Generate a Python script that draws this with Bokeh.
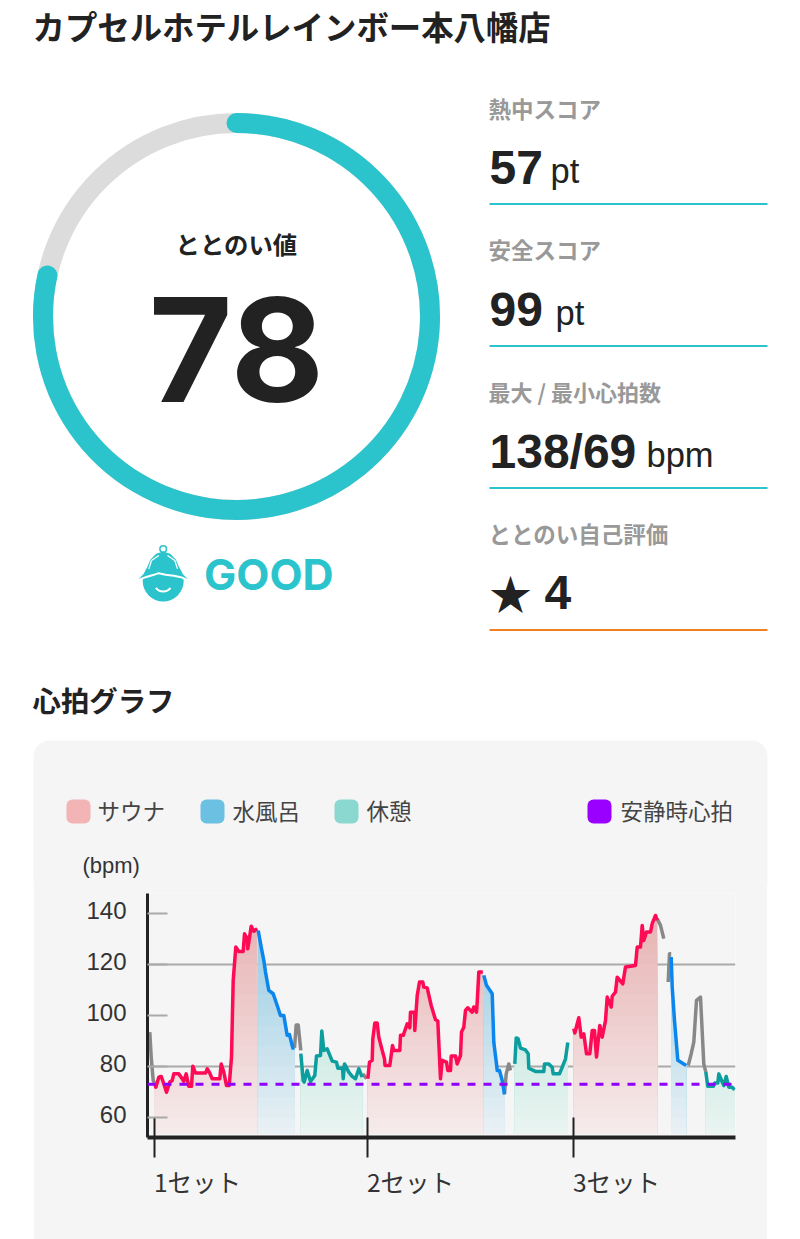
from bokeh.plotting import figure
from bokeh.layouts import column
from bokeh.models import Range1d, FixedTicker, Span, LinearAxis
from bokeh.core.properties import value
from bokeh.embed import file_html
from bokeh.resources import INLINE
import numpy as np

TITLE = "カプセルホテルレインボー本八幡店"
SCORE = 78
SCORE_LABEL = "ととのい値"
VERDICT = "GOOD"
METRIC_LABELS = ["熱中スコア", "安全スコア", "最大 / 最小心拍数", "ととのい自己評価"]
METRIC_VALUES = ["57", "99", "138/69", "4"]
METRIC_UNITS = ["pt", "pt", "bpm", ""]
CHART_TITLE = "心拍グラフ"
LEGEND_LABELS = ["サウナ", "水風呂", "休憩", "安静時心拍"]
Y_TICKS = [60, 80, 100, 120, 140]
X_TICKS = [7, 220, 426]
X_LABELS = ["1セット", "2セット", "3セット"]
REST_HR = 73

gray1_x = [2.3, 3.7, 5.7, 7.0]
gray1_y = [93.5, 83.7, 74.5, 73.5]
sauna1_x = [7.0, 8.3, 11.3, 13.7, 15.7, 19, 22.3, 24.7, 26.3, 31.3, 34.7, 36.3, 38.7, 41.3, 44, 45.3, 48, 58, 59.7, 62.3, 64.7, 72.3, 73.7, 76.3, 79, 81.7, 84, 85.7, 88.3, 91.3, 95.7, 97, 99.7, 100.3, 103.7, 106.3, 109.7]
sauna1_y = [73.5, 71.9, 75.8, 76.1, 73.9, 69.9, 73.9, 74.5, 77.1, 77.1, 75.2, 74.2, 77.1, 72.2, 72.2, 80.1, 77.4, 77.4, 79.1, 77.4, 75.2, 75.2, 81, 77.8, 72.5, 72.5, 83.7, 113.7, 126.8, 125.1, 125.1, 132, 130, 126.1, 135, 133, 134]
water1_x = [110.7, 113.7, 116.3, 118, 121.3, 125.7, 129.7, 133, 136.3, 139.7, 142, 145.3, 147]
water1_y = [133.3, 126.8, 121.6, 117, 109.8, 108.5, 103.9, 100, 100, 92.2, 92.5, 87.2, 87.3]
gray2_x = [147, 148.7, 150.7, 153.3]
gray2_y = [87.3, 96.3, 96.3, 86.3]
rest1_x = [153.3, 155.7, 156.7, 159.7, 163, 167.3, 169, 173, 174.3, 176.3, 179.7, 184.7, 189, 190.3, 195, 195.7, 197, 201.3, 204.7, 208, 211.3, 214.7]
rest1_y = [85, 74.5, 73.9, 78.4, 74.1, 76.5, 84.1, 84.3, 93.9, 86.3, 86.9, 82.1, 81.7, 79.3, 79.3, 75.2, 81, 77.8, 76.1, 75.2, 79.1, 75.8]
gray3_x = [215.3, 219]
gray3_y = [77.1, 75.2]
sauna2_x = [220.3, 222, 224.7, 225.3, 227.3, 229.7, 231.3, 234.7, 237, 237.5, 242.3, 245, 246.3, 252.3, 253, 255.7, 259.7, 262.3, 263, 267, 267.3, 269.7, 272, 275.3, 276.3, 279.7, 283.7, 288, 290.3, 293, 294.7, 299, 300.3, 303, 303.7, 308, 309.7, 313, 314, 316.3, 318, 320.3, 324.7, 326.3, 329, 329.7, 331.3, 335.3]
sauna2_y = [75.2, 81.7, 82.4, 90.8, 97, 97, 91.5, 86.3, 83, 80.4, 80.4, 88.2, 86.3, 86.3, 92.2, 92.2, 96.7, 95.2, 101.3, 101.3, 94.1, 107.8, 113.1, 113.1, 111.1, 110.8, 103.9, 98.3, 97.8, 75.2, 82.4, 81.7, 78.4, 78.4, 84.1, 84.1, 81, 84.3, 93.5, 95.4, 102, 103, 101.3, 103.3, 101.3, 105.2, 117, 117]
water2_x = [336.3, 339, 344.7, 346.3, 349, 349.7, 352, 354.7, 357]
water2_y = [115.7, 111.8, 108.5, 89.5, 81, 78.4, 78.4, 74.5, 69]
gray4_x = [357, 358.7, 361.3, 363]
gray4_y = [69.3, 77.1, 81, 78.4]
rest2_x = [367.3, 368.7, 370.7, 373, 378, 380.7, 381.3, 386.3, 388, 396.3, 397, 401.3, 404.7, 405.7, 412, 414.7, 418, 420.3]
rest2_y = [81, 91.2, 90.8, 87.2, 86.5, 85, 79.3, 78.4, 78, 78, 81, 81, 79.7, 77.1, 77.1, 79.7, 83, 89.4]
sauna3_x = [426.3, 427.3, 431.3, 433.7, 436.3, 439, 442.3, 444.7, 447, 449, 452.3, 454.7, 458, 459.7, 463.7, 464.7, 468, 469.7, 475.3, 478, 488, 489.7, 493, 494.7, 496.3, 499, 503, 504.7, 508, 509.7]
sauna3_y = [94.8, 93.1, 99.1, 91.5, 92.8, 85, 85, 94.1, 94.1, 83.7, 96.1, 91.5, 98, 107.2, 103.3, 107.5, 109.2, 115, 112.4, 119, 119.6, 126.8, 126.8, 135.3, 129.4, 132.7, 132.7, 136, 139.2, 137.3]
gray5_x = [509.7, 513, 516.3]
gray5_y = [137.9, 135.3, 130.1]
gray6_x = [520.7, 522, 523.7]
gray6_y = [113.1, 124.2, 124.2]
water3_x = [523.7, 524.7, 527, 530.3, 534.7, 538.7]
water3_y = [122.9, 111.1, 98, 82.4, 81.4, 80.4]
gray7_x = [540.7, 543.7, 546.3, 549, 553, 556.3, 558.3]
gray7_y = [80.4, 85, 89.5, 105.9, 107.2, 81, 77.8]
rest3_x = [558.3, 560.3, 565.7, 567.3, 570.3, 571.3, 574.7, 576.3, 578.7, 581.3, 584.7, 587]
rest3_y = [77.8, 72.2, 72.2, 73.5, 73.5, 77.1, 73.9, 72.5, 76.1, 71.9, 71.9, 70.8]

JP = "Noto Sans CJK JP"
LAT = "Liberation Sans"
INT = "Inter"
TEAL = "#2bc4cc"
INK = "#222222"
PANEL = "#f5f5f5"

# ---------- upper part: page coordinates ----------
H1 = 885
top = figure(width=800, height=H1, x_range=Range1d(0, 800), y_range=Range1d(H1, 0),
             output_backend="svg", toolbar_location=None, min_border=0, frame_align=False)
top.axis.visible = False
top.grid.visible = False
top.outline_line_color = None


def txt(fig, x, y, s, size, color=INK, font=JP, style="normal", align="left"):
    fig.text([x], [y], text=[s], text_font=value(font), text_font_size=f"{size}px",
             text_font_style=style, text_color=color, text_align=align, text_baseline="middle")


txt(top, 32, 25, TITLE, 32.4, style="bold")

cx, cy, R = 236, 316, 193.5
top.arc([cx], [cy], radius=R, start_angle=0, end_angle=2 * np.pi, line_color="#dcdcdc", line_width=20)
top.arc([cx], [cy], radius=R, start_angle=np.pi / 2,
        end_angle=np.pi / 2 - 2 * np.pi * (SCORE + 0.4) / 100, direction="clock",
        line_color=TEAL, line_width=20, line_cap="round")
txt(top, 236, 243, SCORE_LABEL, 24.4, style="bold", align="center")
txt(top, 236, 349, str(SCORE), 144, font=INT, style="bold", align="center")

# mascot icon, outlined in a 3x sketch of 220x80 around (125, 535)
ix = 162.7
def zx(v): return [125 + a / 3 for a in v]
def zy(v): return [535 + a / 3 for a in v]
top.circle([ix], [580.5], radius=20.5, fill_color=TEAL, line_color=None)
hat_x = [113, 92, 75, 65, 55, 38, 60, 85, 113, 141, 166, 188, 171, 161, 151, 134]
hat_y = [48, 55, 72, 95, 115, 132, 128, 122, 122, 122, 128, 132, 115, 95, 72, 55]
top.patch(zx(hat_x), zy(hat_y), fill_color=TEAL, line_color=None)
top.circle([ix], [548.5], radius=3.3, fill_color=None, line_color=TEAL, line_width=1.6)
top.line(zx([38, 60, 85, 100, 120, 145, 166, 188]), zy([134, 125, 118, 113, 118, 121, 125, 134]),
         line_color="white", line_width=2)
top.line(zx([70, 78, 100]), zy([100, 75, 60]), line_color="white", line_width=1.3)
top.line(zx([156, 148, 126]), zy([100, 75, 60]), line_color="white", line_width=1.3)
top.arc([ix], [582], radius=9, start_angle=np.pi * 1.2, end_angle=np.pi * 1.8,
        line_color="white", line_width=2)
txt(top, 203.5, 573, VERDICT, 43, color=TEAL, font=INT, style="bold")

ys = [107, 248, 390, 532]
lab_size = [22.5, 22.5, 22, 22.5]
vy = [167, 309, 451, 592]
lines = [203.5, 345.5, 487.5, 629.5]
unit_x = [550, 555, 646, None]
for i in range(4):
    txt(top, 488, ys[i], METRIC_LABELS[i], lab_size[i], color="#999999", style="bold")
    vx = 544 if i == 3 else 489
    txt(top, vx, vy[i], METRIC_VALUES[i], 48, font=LAT, style="bold")
    if METRIC_UNITS[i]:
        txt(top, unit_x[i], vy[i] + 3, METRIC_UNITS[i], 34.5, font=LAT)
    top.line([489, 767], [lines[i], lines[i]], line_width=2, line_color="#f08020" if i == 3 else TEAL)
txt(top, 489, 591, "★", 42)
txt(top, 32, 699, CHART_TITLE, 28.4, style="bold")

# panel head with legend and unit
top.quad(left=33, right=767, top=740, bottom=960, fill_color=PANEL, line_color=None, border_radius=16)
sw_x = [66, 200, 334, 587]
sw_c = ["#f2b4b4", "#6cc0e2", "#8bd8d0", "#9900ff"]
lb_x = [97, 232, 366, 620]
for i in range(4):
    top.quad(left=sw_x[i], right=sw_x[i] + 24, top=799, bottom=823, fill_color=sw_c[i], line_color=None, border_radius=6)
    txt(top, lb_x[i], 809, LEGEND_LABELS[i], 22.5, color="#444444")
txt(top, 82, 865, "(bpm)", 22, color="#333333", font=LAT)

# ---------- chart ----------
OVERLAP = 3
H2 = 1239 - H1 + OVERLAP
p = figure(width=734, height=H2, x_range=Range1d(0, 588),
           y_range=Range1d(52.16, 147.8), output_backend="svg", toolbar_location=None,
           min_border_left=114, min_border_right=32, min_border_top=8 + OVERLAP, min_border_bottom=102,
           margin=(-OVERLAP, 0, 0, 33), frame_align=False,
           background_fill_color=PANEL, border_fill_color=PANEL)
p.outline_line_color = None
p.xgrid.visible = False
p.ygrid.ticker = FixedTicker(ticks=[80, 120])
p.ygrid.grid_line_color = "#aaaaaa"
p.ygrid.grid_line_width = 2

yax = p.yaxis[0]
yax.ticker = FixedTicker(ticks=Y_TICKS)
yax.major_label_overrides = {t: "" for t in Y_TICKS}
yax.axis_line_color = "#222222"
yax.axis_line_width = 3
yax.major_tick_in = 20
yax.major_tick_out = 0
yax.major_tick_line_color = "#aaaaaa"
yax.major_tick_line_width = 2
yax.minor_tick_line_color = None
yax.major_label_standoff = 0

# the numbers sit slightly above their ticks
LABEL_LIFT = 1.2
y_shift = [t + LABEL_LIFT for t in Y_TICKS]
ylab = LinearAxis(ticker=FixedTicker(ticks=y_shift),
                  major_label_overrides={k: str(v) for k, v in zip(y_shift, Y_TICKS)},
                  axis_line_color=None, major_tick_line_color=None, minor_tick_line_color=None,
                  major_tick_in=0, major_tick_out=0, major_label_standoff=21,
                  major_label_text_font=LAT, major_label_text_font_size="24px",
                  major_label_text_color="#333333")
p.add_layout(ylab, "left")

xax = p.xaxis[0]
xax.ticker = FixedTicker(ticks=X_TICKS)
xax.major_label_overrides = {t: "" for t in X_TICKS}
xax.axis_line_color = "#222222"
xax.axis_line_width = 4
xax.major_tick_in = 20
xax.major_tick_out = 20
xax.major_tick_line_color = "#222222"
xax.major_tick_line_width = 2
xax.minor_tick_line_color = None
xax.major_label_standoff = 0

# labels start at the tick, so they sit half a label width to the right of it
HALF_LABEL = 43
shifted = [t + HALF_LABEL for t in X_TICKS]
lab = LinearAxis(ticker=FixedTicker(ticks=shifted),
                 major_label_overrides={k: v for k, v in zip(shifted, X_LABELS)},
                 axis_line_color=None, major_tick_line_color=None, minor_tick_line_color=None,
                 major_tick_in=0, major_tick_out=0, major_label_standoff=6,
                 major_label_text_font=JP, major_label_text_font_size="24.5px",
                 major_label_text_color="#333333")
p.add_layout(lab, "below")

FILL = {"sauna": ((0xe8, 0xb4, 0xb4), (0xf7, 0xee, 0xee)),
        "water": ((0x94, 0xcb, 0xe3), (0xee, 0xf3, 0xf6)),
        "rest": ((0xa8, 0xdf, 0xd4), (0xee, 0xf5, 0xf3))}
BOTTOM = 53.5


def area(x, y, kind):
    hi, lo = FILL[kind]
    y = np.asarray(y)
    for lev in range(140, 52, -4):
        f = (lev - 52) / 88
        col = tuple(int(lo[k] + (hi[k] - lo[k]) * f) for k in range(3))
        p.varea(x, y1=np.minimum(y, lev), y2=BOTTOM, fill_color="#%02x%02x%02x" % col)


for x, y, k in [(sauna1_x, sauna1_y, "sauna"), (water1_x, water1_y, "water"), (rest1_x, rest1_y, "rest"),
                (sauna2_x, sauna2_y, "sauna"), (water2_x, water2_y, "water"), (rest2_x, rest2_y, "rest"),
                (sauna3_x, sauna3_y, "sauna"), (water3_x, water3_y, "water"), (rest3_x, rest3_y, "rest")]:
    area(x, y, k)

COL = {"sauna": "#ff0a55", "water": "#0a86ee", "rest": "#0c9e9e", "gray": "#888888"}
for x, y, k in [(gray1_x, gray1_y, "gray"), (gray2_x, gray2_y, "gray"), (gray3_x, gray3_y, "gray"),
                (gray4_x, gray4_y, "gray"), (gray5_x, gray5_y, "gray"), (gray6_x, gray6_y, "gray"),
                (gray7_x, gray7_y, "gray"),
                (sauna1_x, sauna1_y, "sauna"), (water1_x, water1_y, "water"), (rest1_x, rest1_y, "rest"),
                (sauna2_x, sauna2_y, "sauna"), (water2_x, water2_y, "water"), (rest2_x, rest2_y, "rest"),
                (sauna3_x, sauna3_y, "sauna"), (water3_x, water3_y, "water"), (rest3_x, rest3_y, "rest")]:
    p.line(x, y, line_color=COL[k], line_width=3.5, line_join="round")

p.add_layout(Span(location=REST_HR, dimension="width", line_color="#8f00ff", line_width=3, line_dash="8 8"))

page = column(top, p, spacing=0)
open("out.html", "w").write(file_html(page, INLINE))
